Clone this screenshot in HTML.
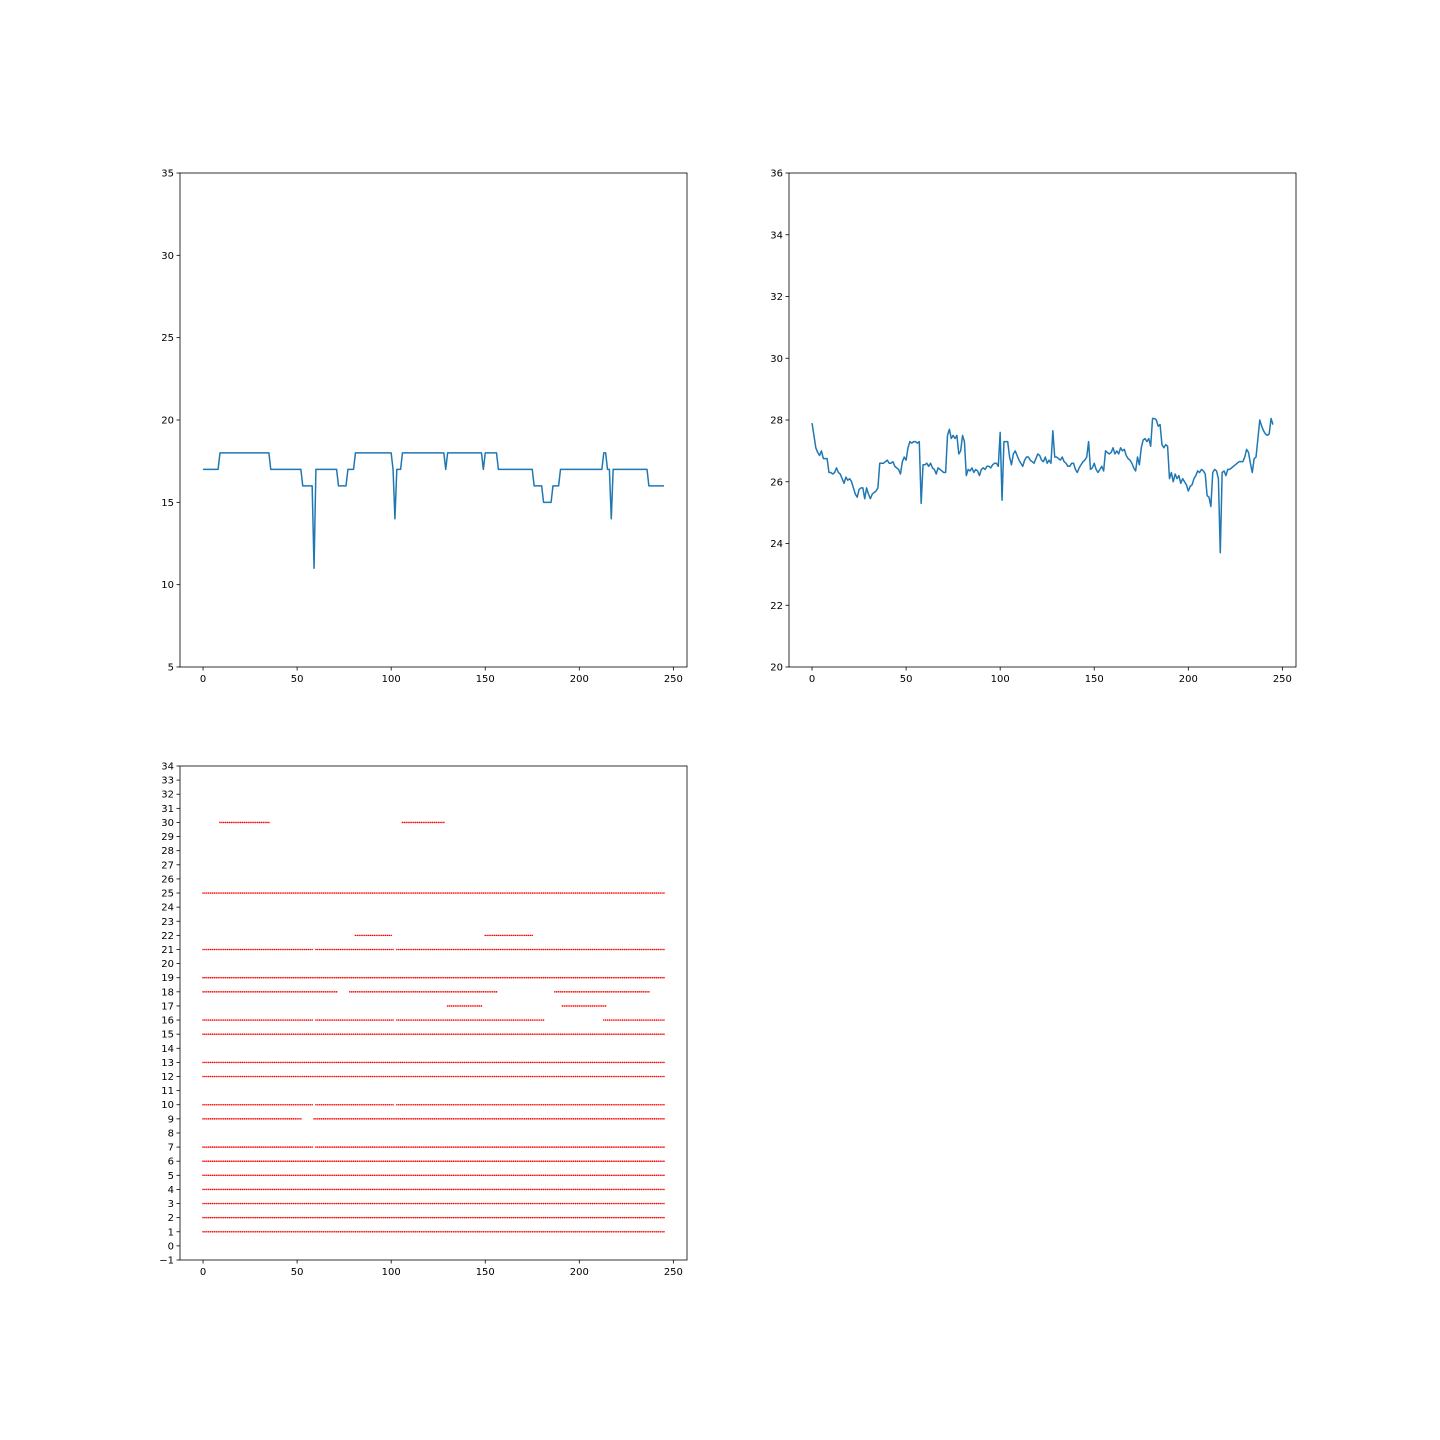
<!DOCTYPE html>
<html><head><meta charset="utf-8"><style>
html,body{margin:0;padding:0;background:#fff}
svg{display:block;font-family:"DejaVu Sans","Liberation Sans",sans-serif}
</style></head><body>
<svg id="fig" width="1440" height="1440" xmlns="http://www.w3.org/2000/svg"></svg>
<script>
const runValues  = [17,18,17,16,11,17,16,17,18,17,14,17,18,17,18,17,18,17,16,15,16,17,18,17,14,17,16];
const runLengths = [9,27,17,6,1,12,5,4,20,1,1,3,23,1,19,1,7,19,5,5,4,23,2,2,1,19,9];
const seriesB = [27.9,27.5,27.1,26.95,26.85,27.0,26.75,26.75,26.75,26.3,
26.3,26.25,26.3,26.45,26.3,26.25,26.1,25.95,26.15,26.05,
26.1,26.0,25.8,25.6,25.5,25.75,25.8,25.8,25.45,25.8,
25.6,25.45,25.6,25.65,25.7,25.8,26.6,26.6,26.6,26.65,
26.7,26.6,26.6,26.65,26.5,26.45,26.4,26.25,26.65,26.8,
26.7,27.1,27.3,27.25,27.3,27.3,27.25,27.3,25.3,26.55,
26.55,26.6,26.5,26.6,26.45,26.4,26.25,26.45,26.4,26.35,26.3,26.3,
27.5,27.7,27.4,27.5,27.4,27.5,26.9,27.0,27.5,27.3,
26.2,26.4,26.35,26.45,26.3,26.4,26.35,26.2,26.4,26.45,
26.4,26.5,26.5,26.45,26.55,26.6,26.6,26.5,27.6,25.4,
27.3,27.3,27.3,26.8,26.55,26.9,27.0,26.85,26.7,26.6,
26.5,26.7,26.8,26.8,26.7,26.65,26.6,26.75,26.9,26.85,
26.7,26.65,26.8,26.6,26.7,26.6,27.65,26.8,26.8,26.75,
26.7,26.8,26.65,26.6,26.5,26.5,26.6,26.6,26.4,26.3,
26.45,26.55,26.65,26.7,26.8,27.3,26.4,26.45,26.6,26.4,
26.3,26.4,26.5,26.35,27.0,26.95,26.9,26.95,27.1,26.9,
27.0,26.9,27.1,27.0,27.05,26.85,26.75,26.7,26.6,26.45,
26.35,26.8,26.55,27.1,27.35,27.4,27.3,27.4,27.15,28.05,
28.05,28.0,27.8,27.85,27.2,27.1,27.2,27.15,26.1,26.3,
26.0,26.25,26.1,26.2,25.95,26.1,26.0,25.9,25.7,25.85,
25.9,26.1,26.2,26.35,26.3,26.4,26.35,26.25,25.55,25.5,
25.2,26.3,26.4,26.35,26.1,23.7,26.3,26.35,26.2,26.4,
26.4,26.45,26.5,26.55,26.6,26.65,26.65,26.65,26.8,27.05,
26.95,26.6,26.3,26.75,26.8,27.4,28.0,27.8,27.65,27.55,
27.5,27.55,28.05,27.85];
const segRow   = [30,30,25,22,22,21,21,21,19,18,18,18,17,17,16,16,16,16,15,13,12,10,10,10,9,9,7,7,6,5,4,3,2,1];
const segStart = [9,106,0,81,150,0,60,103,0,0,78,187,130,191,0,60,103,213,0,0,0,0,60,103,0,59,0,60,0,0,0,0,0,0];
const segEnd   = [35,128,245,100,175,58,101,245,245,71,156,237,148,214,58,101,181,245,245,245,245,58,101,245,52,245,58,245,245,245,245,245,245,245];
const ticksX = [0,50,100,150,200,250];
const ticksA = [5,10,15,20,25,30,35];
const ticksB = [20,22,24,26,28,30,32,34,36];
const ticksC = [];for(let v=-1;v<=34;v++)ticksC.push(v);

const seriesA = [];
runValues.forEach((v,k)=>{for(let j=0;j<runLengths[k];j++)seriesA.push(v);});

const NS="http://www.w3.org/2000/svg";
const svg=document.getElementById('fig');
function mk(tag,attrs,parent){const e=document.createElementNS(NS,tag);for(const k in attrs)e.setAttribute(k,attrs[k]);(parent||svg).appendChild(e);return e;}

function axes(name,L,T,W,H,ymin,ymax,yt){
  const g=mk('g',{});
  
  
  const xmin=-12.25,xmax=257.25;
  const sx=v=>L+(v-xmin)/(xmax-xmin)*W;
  const sy=v=>T+H-(v-ymin)/(ymax-ymin)*H;
  ticksX.forEach(t=>{
    const x=sx(t);
    mk('line',{x1:x,x2:x,y1:T+H,y2:T+H+3.5,stroke:'#000','stroke-width':0.8},g);
    const tx=mk('text',{x:x,y:T+H+15,'font-size':10,'text-anchor':'middle'},g);
    tx.textContent=t;
    
    
  });
  yt.forEach(t=>{
    const y=sy(t);
    mk('line',{x1:L-3.5,x2:L,y1:y,y2:y,stroke:'#000','stroke-width':0.8},g);
    const tx=mk('text',{x:L-6,y:y+3.5,'font-size':10,'text-anchor':'end'},g);
    tx.textContent=t<0?'\u2212'+(-t):t;
    
    
  });
  return {g,sx,sy,frame:()=>mk('rect',{x:L,y:T,width:W,height:H,fill:'none',stroke:'#000','stroke-width':0.8},g)};
}

let A=axes('step-line-chart',180,173,507,494,5,35,ticksA);
let pts=seriesA.map((v,i)=>A.sx(i).toFixed(2)+','+A.sy(v).toFixed(2)).join(' ');
let pl=mk('polyline',{points:pts,fill:'none',stroke:'#1f77b4','stroke-width':1.5,'stroke-linejoin':'round'},A.g);


A.frame();

let B=axes('noisy-line-chart',789,173,507,494,20,36,ticksB);
pts=seriesB.map((v,i)=>B.sx(i).toFixed(2)+','+B.sy(v).toFixed(2)).join(' ');
pl=mk('polyline',{points:pts,fill:'none',stroke:'#1f77b4','stroke-width':1.5,'stroke-linejoin':'round'},B.g);


B.frame();

let C=axes('dot-scatter-chart',180,766,507,494,-1,34,ticksC);
segRow.forEach((r,k)=>{
  const sg=mk('g',{fill:'#ff0000'},C.g);
  
  
  for(let i=segStart[k];i<=segEnd[k];i++){
    mk('circle',{cx:C.sx(i).toFixed(2),cy:C.sy(r).toFixed(2),r:0.8},sg);
  }
});
C.frame();
</script>
</body></html>
